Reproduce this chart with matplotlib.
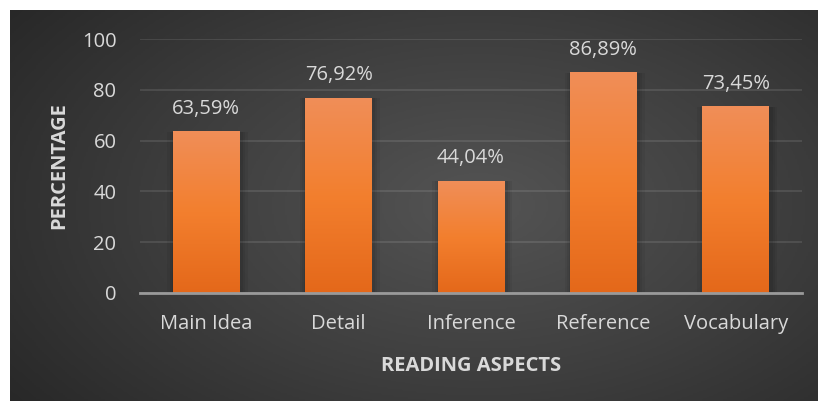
import numpy as np
import matplotlib.pyplot as plt
from matplotlib.colors import LinearSegmentedColormap

# data
categories = ["Main Idea", "Detail", "Inference", "Reference", "Vocabulary"]
values = [63.59, 76.92, 44.04, 86.89, 73.45]
value_labels = ["63,59%", "76,92%", "44,04%", "86,89%", "73,45%"]
yticks = [0, 20, 40, 60, 80, 100]

plt.rcParams['font.family'] = ['Open Sans', 'DejaVu Sans']
txt = '#d9d9d9'

fig = plt.figure(figsize=(8.18, 4.01), dpi=100)
fig.patch.set_facecolor('white')

# dark panel with radial gradient
bg = fig.add_axes([10 / 818, 0, 808 / 818, 391 / 401])
bg.set_zorder(-5)
gx, gy = np.meshgrid(np.linspace(0, 1, 400), np.linspace(0, 1, 200))
r = np.sqrt(((gx - 0.58) / 0.75) ** 2 + ((gy - 0.5) / 0.9) ** 2)
r = np.clip(r, 0, 1)
bg_cmap = LinearSegmentedColormap.from_list('bg', ['#545454', '#3e3e3e', '#262626'])
bg.imshow(r, cmap=bg_cmap, aspect='auto', extent=(0, 1, 0, 1), vmin=0, vmax=1)
bg.axis('off')

ax = fig.add_axes([140 / 818, 1 - 292.7 / 401, 662 / 818, 253.4 / 401])
ax.patch.set_alpha(0)

bar_cmap = LinearSegmentedColormap.from_list('bar', ['#e4681a', '#f37f2e', '#f08e58'])
grad = np.linspace(0, 1, 256).reshape(-1, 1)
x = np.arange(len(categories))
w = 0.506
for xi, v, lab in zip(x, values, value_labels):
    # soft shadow
    for k, a in [(0.05, 0.05), (0.03, 0.06), (0.015, 0.07)]:
        ax.bar(xi + 0.01, v, width=w + 2 * k, color='black', alpha=a, zorder=2)
    ax.imshow(grad, cmap=bar_cmap, origin='lower', aspect='auto',
              extent=(xi - w / 2, xi + w / 2, 0, v), zorder=3)
    ax.text(xi, v + 5, lab, ha='center', va='bottom', color=txt, fontsize=14.5)
ax.set_xlim(-0.5, len(categories) - 0.5)
ax.set_ylim(0, 100)

ax.set_yticks(yticks)
ax.set_xticks(x)
ax.set_xticklabels(categories)
ax.yaxis.grid(True, color='white', alpha=0.1, linewidth=1.5)
ax.set_axisbelow(True)
ax.tick_params(axis='both', length=0, colors=txt, labelsize=14.5)
ax.tick_params(axis='y', pad=17)
ax.tick_params(axis='x', pad=15)
for s in ['top', 'right', 'left']:
    ax.spines[s].set_visible(False)
ax.spines['bottom'].set_color('#9a9a9a')
ax.spines['bottom'].set_linewidth(2)
ax.spines['bottom'].set_zorder(4)

ax.set_ylabel("PERCENTAGE", color=txt, fontsize=14.5, fontweight='bold', labelpad=9)
ax.set_xlabel("READING ASPECTS", color=txt, fontsize=14.5, fontweight='bold', labelpad=16)

fig.savefig('out.png', dpi=100)
